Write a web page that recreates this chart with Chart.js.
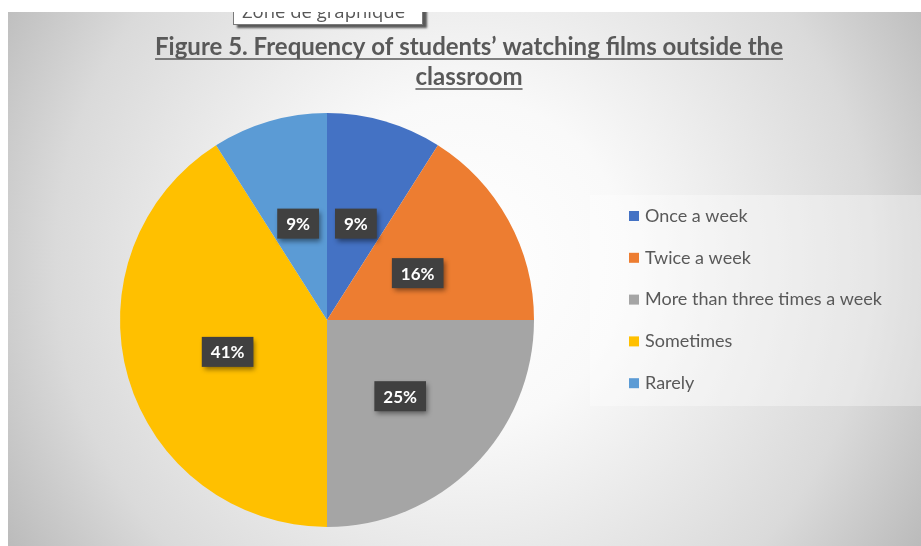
<!DOCTYPE html>
<html>
<head>
<meta charset="utf-8">
<title>Frequency of students' watching films outside the classroom</title>
<script src="https://cdn.jsdelivr.net/npm/chart.js@4.4.1/dist/chart.umd.min.js"></script>
<style>
  html, body { margin: 0; padding: 0; background: #fff; }
  #frame {
    position: absolute; left: 8px; top: 12px;
    width: 913px; height: 534px; overflow: hidden;
  }
  #frame canvas { display: block; }
  .hint {
    position: absolute; left: 225px; top: -13px;
    width: 180px; height: 24px;
    background: #fff; border: 1px solid #7a7a7a;
    box-shadow: 4px 3px 2px rgba(40, 40, 40, 0.75);
    font: 18.5px "Open Sans", sans-serif; color: #575757;
    line-height: 22px; padding-left: 8px;
  }
</style>
</head>
<body>
<div id="frame">
  <canvas id="pie" width="913" height="534"></canvas>
  <div class="hint">Zone de graphique</div>
</div>
<script>
const titleLines = ['Figure 5. Frequency of students\u2019 watching films outside the', 'classroom'];
const categories = ['Once a week', 'Twice a week', 'More than three times a week', 'Sometimes', 'Rarely'];
const shares = [9, 16, 25, 41, 9];
const sliceColors = ['#4472C4', '#ED7D31', '#A5A5A5', '#FFC000', '#5B9BD5'];

// soft radial fill behind everything
const backdrop = {
  id: 'backdrop',
  beforeDraw(chart) {
    const { ctx, width, height } = chart;
    const g = ctx.createRadialGradient(456, 250, 0, 456, 250, 545);
    g.addColorStop(0, '#ffffff');
    g.addColorStop(0.3, '#f9f9f9');
    g.addColorStop(0.75, '#dadada');
    g.addColorStop(1, '#b9b9b9');
    ctx.save();
    ctx.fillStyle = g;
    ctx.fillRect(0, 0, width, height);
    ctx.restore();
  }
};

// two-line underlined heading
const heading = {
  id: 'heading',
  afterDraw(chart) {
    const { ctx } = chart;
    const cx = 461;
    const baselines = [43, 73];
    ctx.save();
    ctx.font = 'bold 24px Lato, sans-serif';
    ctx.fillStyle = '#595959';
    ctx.strokeStyle = '#595959';
    ctx.lineWidth = 1.6;
    ctx.textAlign = 'center';
    ctx.textBaseline = 'alphabetic';
    titleLines.forEach((line, i) => {
      const w = ctx.measureText(line).width;
      ctx.fillText(line, cx, baselines[i]);
      ctx.beginPath();
      ctx.moveTo(cx - w / 2, baselines[i] + 4);
      ctx.lineTo(cx + w / 2, baselines[i] + 4);
      ctx.stroke();
    });
    ctx.restore();
  }
};

// legend panel on the right, built from the chart's own labels and colours
const sideLegend = {
  id: 'sideLegend',
  afterDraw(chart) {
    const { ctx } = chart;
    const ds = chart.data.datasets[0];
    ctx.save();
    ctx.fillStyle = 'rgba(255, 255, 255, 0.35)';
    ctx.fillRect(582, 183, 331, 211);
    ctx.font = '18px Lato, sans-serif';
    ctx.textBaseline = 'middle';
    chart.data.labels.forEach((label, i) => {
      const y = 204 + i * 41.8;
      ctx.fillStyle = ds.backgroundColor[i];
      ctx.fillRect(621, y - 5, 10, 10);
      ctx.fillStyle = '#595959';
      ctx.fillText(label, 637, y);
    });
    ctx.restore();
  }
};

// percentage tags in dark boxes at the middle of each slice
const sliceTags = {
  id: 'sliceTags',
  afterDatasetsDraw(chart) {
    const { ctx } = chart;
    const meta = chart.getDatasetMeta(0);
    ctx.save();
    ctx.font = 'bold 17px Lato, sans-serif';
    ctx.textAlign = 'center';
    ctx.textBaseline = 'middle';
    meta.data.forEach((arc, i) => {
      const { x, y } = arc.tooltipPosition();
      const cy = y + 3;
      const text = chart.data.datasets[0].data[i] + '%';
      const w = ctx.measureText(text).width + 18;
      const h = 30;
      ctx.shadowColor = 'rgba(0, 0, 0, 0.45)';
      ctx.shadowBlur = 5;
      ctx.shadowOffsetX = 2;
      ctx.shadowOffsetY = 3;
      ctx.fillStyle = '#404040';
      ctx.fillRect(x - w / 2, cy - h / 2, w, h);
      ctx.shadowColor = 'transparent';
      ctx.fillStyle = '#ffffff';
      ctx.fillText(text, x, cy + 1);
    });
    ctx.restore();
  }
};

new Chart(document.getElementById('pie'), {
  type: 'pie',
  data: {
    labels: categories,
    datasets: [{
      data: shares,
      backgroundColor: sliceColors,
      borderWidth: 0,
      hoverOffset: 0
    }]
  },
  options: {
    responsive: false,
    animation: false,
    layout: {
      padding: { left: 10, top: 101, right: 285, bottom: 19 }
    },
    plugins: {
      legend: { display: false },
      title: { display: false },
      tooltip: { enabled: false }
    }
  },
  plugins: [backdrop, sliceTags, sideLegend, heading]
});
</script>
</body>
</html>
